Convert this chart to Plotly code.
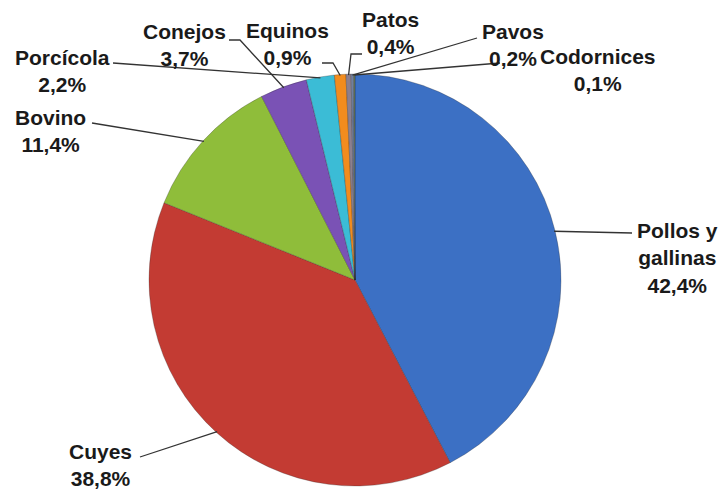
import math
import plotly.graph_objects as go

# Livestock share by species (%)
categories = ["Pollos y gallinas", "Cuyes", "Bovino", "Conejos", "Porcícola",
              "Equinos", "Patos", "Pavos", "Codornices"]
shares = [42.4, 38.8, 11.4, 3.7, 2.2, 0.9, 0.4, 0.2, 0.1]
colors = ["#3C70C4", "#C33B33", "#8FBD3A", "#7A52B5", "#3BBCD6",
          "#F28C1E", "#8C7F8E", "#6F7FA0", "#6A7D5C"]

W, H = 724, 491
CX, CY, R = 355, 280, 206  # pie centre and radius in pixels

# label block centres (pixels) and leader-line bend points, per category
label_pos = [(677, 258), (100, 465), (50, 131), (184, 45), (62, 71),
             (287, 44), (390, 33), (513, 45), (598, 70)]
leader_pts = [[(632, 233)], [(140, 457)], [(92, 123)], [(229, 40), (240, 40)],
              [(113, 63)], [(322, 63), (333, 63)], [(362, 54), (351, 54)],
              [(477, 38)], [(500, 63)]]


def px(x):
    return x / W


def py(y):
    return 1 - y / H


fig = go.Figure(go.Pie(
    labels=categories,
    values=shares,
    sort=False,
    direction="clockwise",
    rotation=0,
    marker=dict(colors=colors, line=dict(color="rgba(40,40,40,0.35)", width=0.8)),
    textinfo="none",
    hoverinfo="label+percent",
    showlegend=False,
    domain=dict(x=[px(CX - R), px(CX + R)], y=[py(CY + R), py(CY - R)]),
))

total = sum(shares)
cum = 0.0
shapes = []
annotations = []
for name, v, (lx, ly), pts in zip(categories, shares, label_pos, leader_pts):
    mid = (cum + v / 2) / total * 2 * math.pi
    cum += v
    ax = CX + (R - 1) * math.sin(mid)
    ay = CY - (R - 1) * math.cos(mid)
    path_pts = pts + [(ax, ay)]
    path = "M " + " L ".join(f"{px(x):.5f},{py(y):.5f}" for x, y in path_pts)
    shapes.append(dict(type="path", xref="paper", yref="paper", path=path,
                       line=dict(color="#333333", width=1.3)))
    disp = name.replace(" y ", " y<br>")
    pct = f"{v:.1f}%".replace(".", ",")
    annotations.append(dict(
        x=px(lx), y=py(ly), xref="paper", yref="paper",
        text=f"{disp}<br>{pct}", showarrow=False, align="center",
        xanchor="center", yanchor="middle",
        font=dict(family="Liberation Sans, Arial, sans-serif", size=21,
                  color="#1a1a1a", weight="bold"),
    ))

fig.update_layout(
    width=W, height=H,
    margin=dict(l=0, r=0, t=0, b=0),
    paper_bgcolor="white",
    plot_bgcolor="white",
    shapes=shapes,
    annotations=annotations,
)

fig.write_html("out.html")
